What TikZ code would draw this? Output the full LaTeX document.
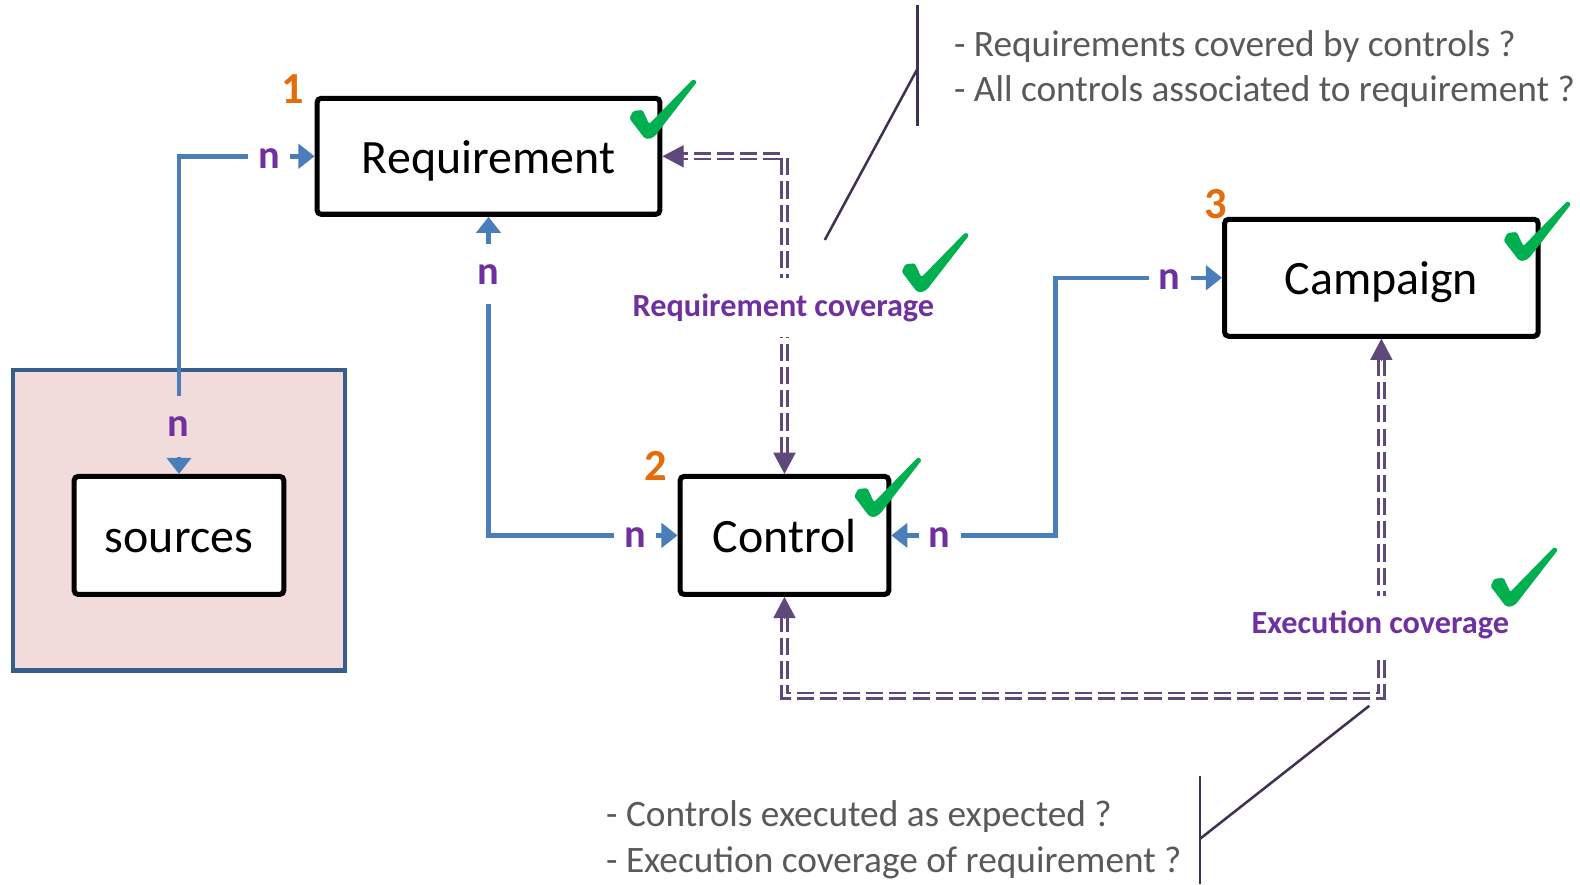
\documentclass[tikz,border=0pt]{standalone}
\usepackage{fontspec}
\setmainfont{Carlito}
\usetikzlibrary{arrows.meta,calc}
\definecolor{cblue}{HTML}{4A7EBB}
\definecolor{cnlab}{HTML}{7030A0}
\definecolor{cdash}{HTML}{5F497A}
\definecolor{corange}{HTML}{E46C0A}
\definecolor{cgreen}{HTML}{00B050}
\definecolor{cgray}{HTML}{595959}
\definecolor{ccall}{HTML}{3F3151}
\definecolor{cpink}{HTML}{F2DCDB}
\definecolor{cframe}{HTML}{385D8A}
\tikzset{
  boxnode/.style={draw=black, line width=5bp, rounded corners=4bp, fill=white, inner sep=0pt,
    text height=34bp, text depth=0pt, font=\fontsize{47.5bp}{56bp}\selectfont},
  grpnode/.style={draw=cframe, line width=4.5bp, fill=cpink, inner sep=0pt},
  bluelink/.style={draw=cblue, line width=4.5bp,
    {Triangle[length=16bp,width=24bp]}-{Triangle[length=16bp,width=24bp]}},
  dbl/.style={draw=cdash, line width=2.6bp, double=white, double distance=3bp,
    dash pattern=on 17bp off 6bp, shorten <=20bp, shorten >=20bp},
  ptip/.style={draw=cdash, fill=cdash, line width=1bp, -{Triangle[length=21bp,width=22bp]}},
  nh/.style={fill=white, text=cnlab, font=\bfseries\fontsize{40bp}{42bp}\selectfont, inner xsep=10bp, inner ysep=4bp},
  nv/.style={fill=white, text=cnlab, font=\bfseries\fontsize{40bp}{42bp}\selectfont, inner xsep=4bp, inner ysep=20bp},
  covlab/.style={fill=white, text=cnlab, font=\bfseries\fontsize{32bp}{36bp}\selectfont, inner xsep=4bp, inner ysep=15bp},
  numlab/.style={text=corange, font=\bfseries\fontsize{44bp}{46bp}\selectfont, inner sep=0pt},
  question/.style={text=cgray, font=\fontsize{37bp}{45bp}\selectfont, anchor=base west, inner sep=0pt},
  callout/.style={draw=ccall, line width=2.5bp},
  pics/tick/.style={code={
    \fill[cgreen, rounded corners=1.5bp, scale=0.93] (-2,0) -- (-18,-21) -- (-14,-29) -- (-4,-30) -- (3,-15)
      -- (50,-63) -- (54,-60) -- (9,-2) -- (3,1) -- cycle;}}
}
\begin{document}
\begin{tikzpicture}[x=1bp,y=-1bp]
\useasboundingbox[fill=white] (0,0) rectangle (1567,877);

% group box and nodes
\node[grpnode, minimum width=329bp, minimum height=298bp] (grp) at (177.5,516) {};
\node[boxnode, minimum width=340bp, minimum height=115bp] (req) at (484.5,155) {Requirement};
\node[boxnode, minimum width=207bp, minimum height=117bp] (ctrl) at (778,531) {Control};
\node[boxnode, minimum width=311bp, minimum height=116bp] (camp) at (1370,275.5) {Campaign};
\node[boxnode, minimum width=208bp, minimum height=117bp] (src) at (177.5,531) {sources};

% numbers
\node[numlab] (n1) at (290,88) {1};
\node[numlab] (n2) at (650,462) {2};
\node[numlab] (n3) at (1206,202) {3};

% blue connectors
\draw[bluelink] (src.north) |- (req.west);
\draw[bluelink] (req.south) |- (ctrl.west);
\coordinate (mid) at (1047,0);
\draw[bluelink] (ctrl.east) -| (mid |- camp.west) -- (camp.west);

% n labels
\node[nh] (la) at (267,157) {n};
\node[nv, fill=cpink] (lb) at (177,423) {n};
\node[nv] (lc) at (484,272) {n};
\node[nh] (ld) at (630,533) {n};
\node[nh] (le) at (932,533) {n};
\node[nh] (lf) at (1160,277) {n};

% requirement coverage
\draw[dbl] (ctrl.north) |- (req.east);
\draw[ptip] ($(ctrl.north)+(0,-21)$) -- (ctrl.north);
\draw[ptip] ($(req.east)+(21,0)$) -- (req.east);
\node[covlab] (rc) at (777,305) {Requirement coverage};

% execution coverage
\coordinate (eb) at (0,690);
\draw[dbl] (camp.south) -- (camp.south |- eb) -| (ctrl.south);
\draw[ptip] ($(camp.south)+(0,21)$) -- (camp.south);
\draw[ptip] ($(ctrl.south)+(0,21)$) -- (ctrl.south);
\node[covlab] (ec) at (1369,620) {Execution coverage};

% ticks
\pic at (641,137) {tick};
\pic at (911,289) {tick};
\pic at (864,512) {tick};
\pic at (1508,258) {tick};
\pic at (1495,601) {tick};

% callouts
\coordinate (c1a) at (910,5);
\coordinate (c1b) at (910,125);
\coordinate (c1m) at (910,68);
\coordinate (c1e) at (818,238);
\draw[callout] (c1a) -- (c1b);
\draw[callout] (c1m) -- (c1e);
\coordinate (c2a) at (1190,770);
\coordinate (c2b) at (1190,877);
\coordinate (c2m) at (1190,832);
\coordinate (c2e) at (1358,700);
\draw[callout] (c2a) -- (c2b);
\draw[callout] (c2m) -- (c2e);

% questions
\node[question] (q1) at (946,56) {- Requirements covered by controls ?};
\node[question] (q2) at (946,101) {- All controls associated to requirement ?};
\node[question] (q3) at (601,820) {- Controls executed as expected ?};
\node[question] (q4) at (601,865) {- Execution coverage of requirement ?};
\end{tikzpicture}
\end{document}
